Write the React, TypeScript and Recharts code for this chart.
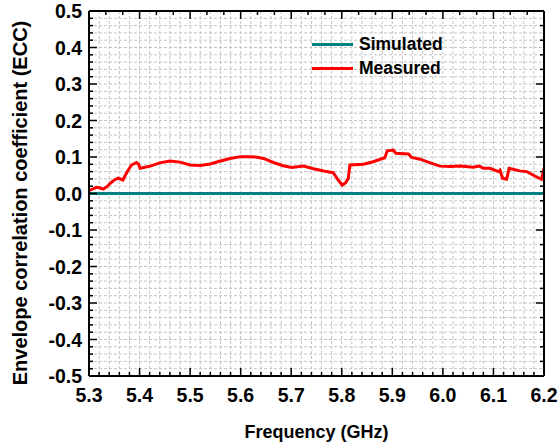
import React from 'react';
import { LineChart, Line, XAxis, YAxis, CartesianGrid, Legend } from 'recharts';

const measuredFreq = [
  5.300, 5.308, 5.315, 5.322, 5.328, 5.335, 5.342, 5.350, 5.358, 5.367,
  5.375, 5.384, 5.394, 5.398, 5.401, 5.421, 5.440, 5.460, 5.480, 5.500,
  5.520, 5.540, 5.560, 5.579, 5.600, 5.618, 5.630, 5.645, 5.665, 5.684,
  5.701, 5.724, 5.744, 5.760, 5.770, 5.783, 5.793, 5.801, 5.808, 5.813,
  5.816, 5.843, 5.862, 5.885, 5.890, 5.902, 5.907, 5.932, 5.938, 5.955,
  5.975, 5.994, 6.015, 6.034, 6.060, 6.072, 6.080, 6.093, 6.110, 6.113,
  6.118, 6.126, 6.131, 6.152, 6.166, 6.182, 6.195, 6.200,
];
const measuredEcc = [
  0.008, 0.013, 0.017, 0.015, 0.012, 0.018, 0.028, 0.037, 0.042, 0.037,
  0.058, 0.078, 0.085, 0.080, 0.069, 0.075, 0.084, 0.089, 0.086, 0.078,
  0.077, 0.081, 0.089, 0.096, 0.101, 0.101, 0.100, 0.096, 0.085, 0.076,
  0.071, 0.075, 0.068, 0.063, 0.060, 0.057, 0.037, 0.023, 0.030, 0.042,
  0.078, 0.080, 0.087, 0.098, 0.117, 0.119, 0.110, 0.108, 0.099, 0.094,
  0.084, 0.075, 0.074, 0.075, 0.072, 0.075, 0.069, 0.069, 0.060, 0.064,
  0.042, 0.039, 0.069, 0.062, 0.060, 0.048, 0.039, 0.069,
];
const simulatedFreq = [5.3, 6.2];
const simulatedEcc = [0, 0];

const xTicks: number[] = [];
for (let i = 0; i <= 45; i++) xTicks.push(Math.round((5.3 + i * 0.02) * 1000) / 1000);
const yTicks: number[] = [];
for (let i = 0; i <= 50; i++) yTicks.push(Math.round((-0.5 + i * 0.02) * 1000) / 1000);
const xTopTicks: number[] = [];
for (let i = 0; i <= 27; i++) xTopTicks.push(Math.round((5.3 + i * 0.1 / 3) * 10000) / 10000);
const yRightTicks: number[] = [];
for (let i = 0; i <= 25; i++) yRightTicks.push(Math.round((-0.5 + i * 0.04) * 1000) / 1000);

const measuredData = measuredFreq.map((f, i) => ({ f, v: measuredEcc[i] }));
const simulatedData = simulatedFreq.map((f, i) => ({ f, v: simulatedEcc[i] }));

const FONT = '"Liberation Sans", Arial, sans-serif';
const isMajor = (v: number) => Math.abs(Math.round(v * 10) - v * 10) < 1e-6;
const fmt = (v: number) => {
  const r = Math.round(v * 10) / 10;
  return (r === 0 ? 0 : r).toFixed(1);
};

const BottomTick = (p: any) => {
  const { x, y, payload } = p;
  const v = payload.value;
  const m = isMajor(v);
  return (
    <g>
      <line x1={x} x2={x} y1={y} y2={y - (m ? 8 : 4)} stroke="#000" strokeWidth={1.5} />
      {m && (
        <text x={x} y={y + 19} textAnchor="middle" dominantBaseline="central"
          fontFamily={FONT} fontWeight="bold" fontSize={19.5} fill="#000">{fmt(v)}</text>
      )}
    </g>
  );
};
const LeftTick = (p: any) => {
  const { x, y, payload } = p;
  const v = payload.value;
  const m = isMajor(v);
  return (
    <g>
      <line x1={x} x2={x + (m ? 8 : 4)} y1={y} y2={y} stroke="#000" strokeWidth={1.5} />
      {m && (
        <text x={x - 7} y={y} textAnchor="end" dominantBaseline="central"
          fontFamily={FONT} fontWeight="bold" fontSize={19.5} fill="#000">{fmt(v)}</text>
      )}
    </g>
  );
};
const TopTick = (p: any) => {
  const { x, y, payload } = p;
  const m = isMajor(payload.value);
  return <line x1={x} x2={x} y1={y} y2={y + (m ? 8 : 4)} stroke="#000" strokeWidth={1.5} />;
};
const RightTick = (p: any) => {
  const { x, y, payload } = p;
  const m = isMajor(payload.value);
  return <line x1={x} x2={x - (m ? 8 : 4)} y1={y} y2={y} stroke="#000" strokeWidth={1.5} />;
};

const LegendContent = () => (
  <div style={{ fontFamily: FONT, fontWeight: 'bold', fontSize: 17.5, color: '#000', lineHeight: '24px' }}>
    <div style={{ display: 'flex', alignItems: 'center' }}>
      <span style={{ display: 'inline-block', width: 41, height: 3, background: '#008080', marginRight: 6 }} />
      <span>Simulated</span>
    </div>
    <div style={{ display: 'flex', alignItems: 'center' }}>
      <span style={{ display: 'inline-block', width: 41, height: 3, background: '#ff0000', marginRight: 6 }} />
      <span>Measured</span>
    </div>
  </div>
);

export default function App() {
  return (
    <div style={{ position: 'absolute', left: 0, top: 0, width: 559, height: 444, background: '#fff' }}>
      <LineChart width={559} height={444} margin={{ top: 10, right: 14, bottom: 0, left: 0 }}>
        <CartesianGrid xAxisId="b" yAxisId="l" stroke="#c4c4c4" strokeDasharray="3 2" strokeWidth={1} />
        <XAxis
          xAxisId="b" dataKey="f" type="number" domain={[5.3, 6.2]} ticks={xTicks}
          interval={0} allowDataOverflow height={68} tickSize={0} tickMargin={0}
          axisLine={{ stroke: '#000', strokeWidth: 2 }} tickLine={false} tick={BottomTick}
          label={{
            content: (lp: any) => {
              const vb = lp.viewBox && lp.viewBox.width ? lp.viewBox : { x: 89, y: 376, width: 455 };
              return (
                <text x={vb.x + vb.width / 2} y={vb.y + 56} textAnchor="middle" dominantBaseline="central"
                  fontFamily={FONT} fontWeight="bold" fontSize={18} fill="#000">Frequency (GHz)</text>
              );
            },
          }}
        />
        <XAxis
          xAxisId="t" orientation="top" dataKey="f" type="number" domain={[5.3, 6.2]} ticks={xTopTicks}
          interval={0} allowDataOverflow height={1} tickSize={0} tickMargin={0}
          axisLine={{ stroke: '#000', strokeWidth: 2 }} tickLine={false} tick={TopTick}
        />
        <YAxis
          yAxisId="l" type="number" domain={[-0.5, 0.5]} ticks={yTicks} interval={0}
          allowDataOverflow width={89} tickSize={0} tickMargin={0}
          axisLine={{ stroke: '#000', strokeWidth: 2 }} tickLine={false} tick={LeftTick}
          label={{
            content: () => {
              const cy = 203;
              return (
                <text x={20} y={cy} transform={`rotate(-90, 20, ${cy})`} textAnchor="middle"
                  dominantBaseline="central" fontFamily={FONT} fontWeight="bold" fontSize={20} fill="#000">
                  Envelope correlation coefficient (ECC)
                </text>
              );
            },
          }}
        />
        <YAxis
          yAxisId="r" orientation="right" type="number" domain={[-0.5, 0.5]} ticks={yRightTicks} interval={0}
          allowDataOverflow width={1} tickSize={0} tickMargin={0}
          axisLine={{ stroke: '#000', strokeWidth: 2 }} tickLine={false} tick={RightTick}
        />
        <Legend
          layout="vertical" verticalAlign="middle" align="center"
          wrapperStyle={{ position: 'absolute', left: 312, top: 32, width: 170 }}
          content={LegendContent}
        />
        <Line xAxisId="t" yAxisId="r" data={simulatedData} dataKey="v" stroke="none" dot={false}
          isAnimationActive={false} legendType="none" activeDot={false} />
        <Line xAxisId="b" yAxisId="l" data={simulatedData} dataKey="v" name="Simulated" stroke="#008080"
          strokeWidth={3} dot={false} isAnimationActive={false} />
        <Line xAxisId="b" yAxisId="l" data={measuredData} dataKey="v" name="Measured" stroke="#ff0000"
          strokeWidth={3} dot={false} isAnimationActive={false} />
      </LineChart>
    </div>
  );
}
